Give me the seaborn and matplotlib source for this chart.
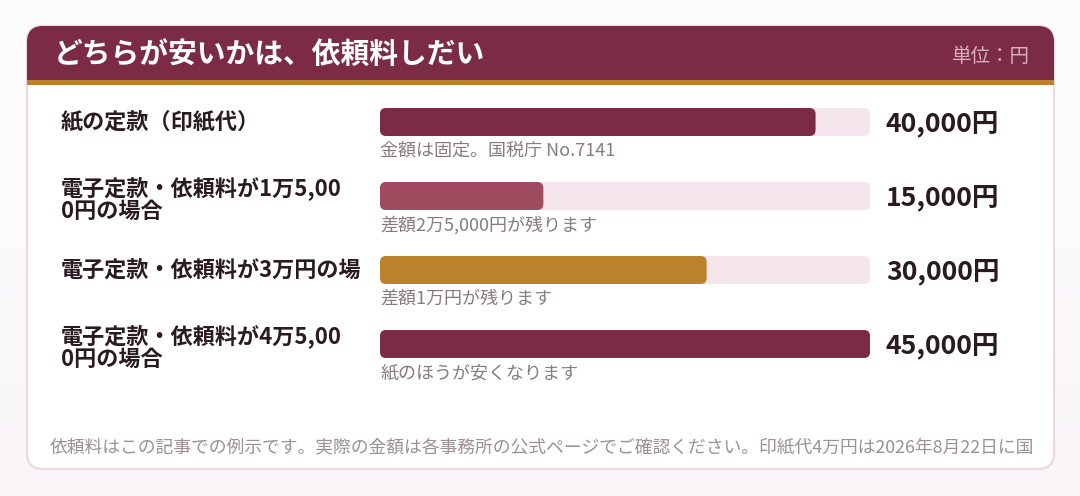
import numpy as np
import pandas as pd
import matplotlib
matplotlib.use("Agg")
import matplotlib.pyplot as plt
import seaborn as sns
from matplotlib.patches import FancyBboxPatch, Rectangle
from matplotlib.colors import LinearSegmentedColormap

# ---------------- data ----------------
title = "どちらが安いかは、依頼料しだい"
unit_label = "単位：円"
categories = [
    "紙の定款（印紙代）",
    "電子定款・依頼料が1万5,000円の場合",
    "電子定款・依頼料が3万円の場合",
    "電子定款・依頼料が4万5,000円の場合",
]
display_labels = [
    "紙の定款（印紙代）",
    "電子定款・依頼料が1万5,00\n0円の場合",
    "電子定款・依頼料が3万円の場合",
    "電子定款・依頼料が4万5,00\n0円の場合",
]
values = [40000, 15000, 30000, 45000]
value_labels = ["40,000円", "15,000円", "30,000円", "45,000円"]
notes = [
    "金額は固定。国税庁 No.7141",
    "差額2万5,000円が残ります",
    "差額1万円が残ります",
    "紙のほうが安くなります",
]
footer = ("依頼料はこの記事での例示です。実際の金額は各事務所の公式ページでご確認ください。"
          "印紙代4万円は2026年8月22日に国")
scale_max = 45000

# ---------------- style ----------------
HEADER = "#7B2B45"
GOLD = "#BC822B"
BORDER = "#EBDADF"
TRACK = "#F4E5ED"
bar_colors = ["#7B2B45", "#9F4A5F", "#BC822B", "#7B2B45"]
TXT = "#2A1A22"
NOTE = "#877B80"
FOOT = "#9C9095"
UNIT = "#D5B2BE"

sns.set_theme(style="white")
plt.rcParams["font.family"] = ["Noto Sans CJK JP", "DejaVu Sans"]

W, H = 1080, 496
fig = plt.figure(figsize=(W / 100, H / 100), dpi=100)

bg = fig.add_axes([0, 0, 1, 1])
bg.set_xlim(0, W)
bg.set_ylim(H, 0)
bg.axis("off")

# page background gradient
grad = np.linspace(0, 1, 256).reshape(-1, 1)
cmap = LinearSegmentedColormap.from_list("g", ["#FDFCFD", "#FCFBFC", "#F8F4F7"])
bg.imshow(grad, extent=[0, W, H, 0], aspect="auto", cmap=cmap, zorder=0)

# card
cx, cy, cw, ch = 27, 26, 1027, 443
card = FancyBboxPatch((cx, cy), cw, ch, boxstyle="round,pad=0,rounding_size=16",
                      fc="white", ec=BORDER, lw=1.6, zorder=1)
bg.add_patch(card)
hdr = FancyBboxPatch((cx, cy), cw, 120, boxstyle="round,pad=0,rounding_size=16",
                     fc=HEADER, ec="none", zorder=2)
bg.add_patch(hdr)
hdr.set_clip_path(Rectangle((cx - 2, cy - 2), cw + 4, 56, transform=bg.transData))
bg.add_patch(Rectangle((cx, 80), cw, 5, fc=GOLD, ec="none", zorder=3))

bg.text(54, 54, title, color="white", fontsize=20.7, fontweight="bold",
        va="center", ha="left", zorder=4)
bg.text(1030, 57, unit_label, color=UNIT, fontsize=14.0, va="center", ha="right", zorder=4)

# ---------------- bars ----------------
row_top, row_h, n = 85, 74, len(categories)
bar_left, bar_w = 380, 490
axb = fig.add_axes([bar_left / W, 1 - (row_top + n * row_h) / H, bar_w / W, n * row_h / H])
axb.patch.set_alpha(0)

df = pd.DataFrame({"category": categories, "value": values, "track": [scale_max] * n})
bw = 28 / row_h
sns.barplot(data=df, x="track", y="category", color=TRACK, width=bw, ax=axb,
            orient="h", saturation=1)
sns.barplot(data=df, x="value", y="category", hue="category", palette=bar_colors,
            width=bw, ax=axb, orient="h", dodge=False, legend=False, saturation=1)
axb.set_xlim(0, scale_max)
axb.set_ylim(n - 0.5, -0.5)
axb.axis("off")

# round the bar corners (same geometry as seaborn's bars)
xpp = scale_max / bar_w
ypp = n / (n * row_h)
r_px = 6
for i, p in enumerate(list(axb.patches)):
    x0, y0, w, h = p.get_x(), p.get_y(), p.get_width(), p.get_height()
    fc = p.get_facecolor()
    p.remove()
    fb = FancyBboxPatch((x0, y0), w, h,
                        boxstyle=f"round,pad=0,rounding_size={r_px * xpp}",
                        mutation_aspect=ypp / xpp, fc=fc, ec="none", zorder=2 + (i >= n))
    axb.add_patch(fb)

# ---------------- texts ----------------
renderer = fig.canvas.get_renderer()
label_x = 61
for i in range(n):
    yc = row_top + row_h * (i + 0.5)
    two = "\n" in display_labels[i]
    t = bg.text(label_x, yc + (4 if two else 0), display_labels[i], color=TXT, fontsize=15.9,
                fontweight="bold", va="center", ha="left", linespacing=0.98, zorder=4)
    # overflowing labels are cut at the last glyph that fits before the bar
    clip_right = bar_left
    full_w = t.get_window_extent(renderer).width
    if label_x + full_w > bar_left - 4:
        probe = bg.text(label_x, yc, display_labels[i][:-1], fontsize=15.9, fontweight="bold")
        clip_right = min(bar_left, label_x + probe.get_window_extent(renderer).width - 2)
        probe.remove()
    t.set_clip_on(True)
    t.set_clip_path(Rectangle((0, 0), clip_right, H, transform=bg.transData))
    bg.text(886, yc + 2, value_labels[i], color=TXT, fontsize=19.2, fontweight="bold",
            va="center", ha="left", zorder=4)
    bg.text(bar_left, yc + 29, notes[i], color=NOTE, fontsize=13.0,
            va="center", ha="left", zorder=4)

bg.text(50, 447, footer, color=FOOT, fontsize=12.8, va="center", ha="left", zorder=4)

fig.savefig("out.png", dpi=100)
